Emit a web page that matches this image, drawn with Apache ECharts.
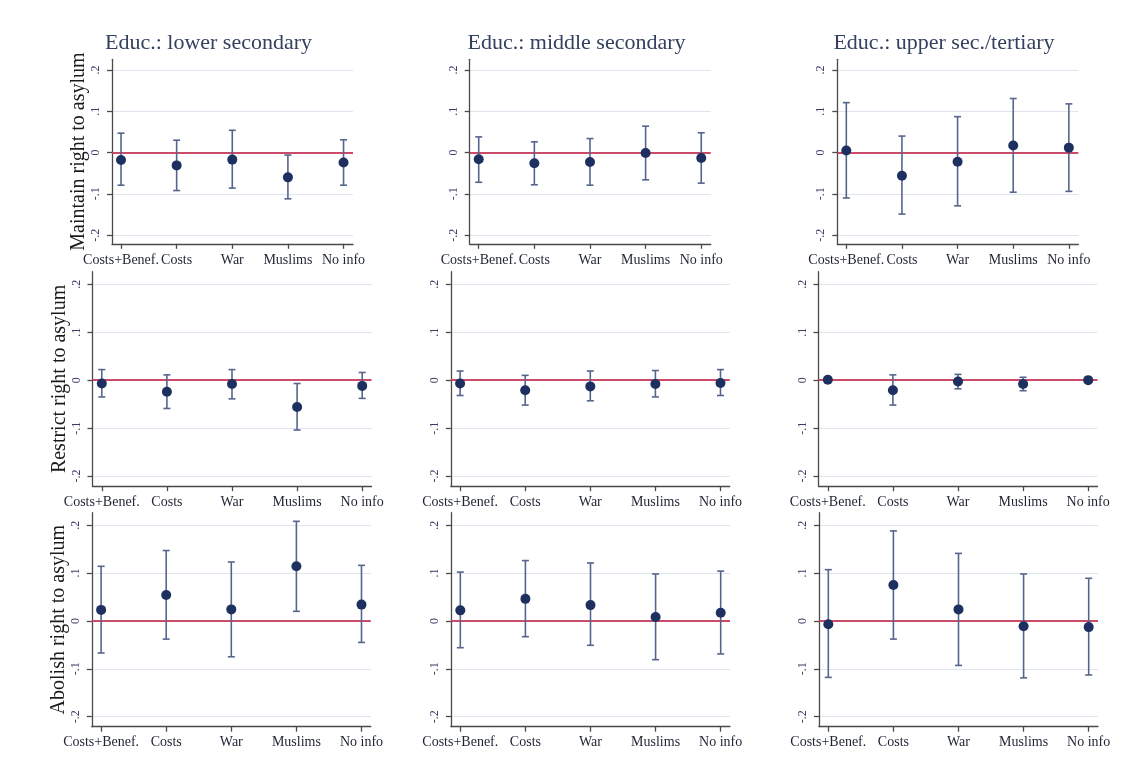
<!DOCTYPE html>
<html>
<head>
<meta charset="utf-8">
<script src="https://cdn.jsdelivr.net/npm/echarts@6/dist/echarts.min.js"></script>
<style>
  html, body { margin: 0; padding: 0; background: #ffffff; }
  #chart { width: 1132px; height: 763px; }
</style>
</head>
<body>
<div id="chart"></div>
<script>
// ---------------- data ----------------
const categories = ['Costs+Benef.', 'Costs', 'War', 'Muslims', 'No info'];
const categoryPositions = [1, 2, 3, 4, 5];
const columnTitles = ['Educ.: lower secondary', 'Educ.: middle secondary', 'Educ.: upper sec./tertiary'];
const rowTitles = ['Maintain right to asylum', 'Restrict right to asylum', 'Abolish right to asylum'];
const yTickValues = [-0.2, -0.1, 0, 0.1, 0.2];
const yTickLabels = ['-.2', '-.1', '0', '.1', '.2'];

// Maintain right to asylum
const maintainLowerCoef  = [-0.018, -0.031, -0.017, -0.060, -0.024];
const maintainLowerLo    = [-0.079, -0.092, -0.086, -0.112, -0.079];
const maintainLowerHi    = [ 0.047,  0.030,  0.054, -0.006,  0.031];
const maintainMiddleCoef = [-0.016, -0.026, -0.023, -0.001, -0.013];
const maintainMiddleLo   = [-0.072, -0.078, -0.079, -0.066, -0.074];
const maintainMiddleHi   = [ 0.038,  0.026,  0.034,  0.064,  0.048];
const maintainUpperCoef  = [ 0.005, -0.056, -0.022,  0.017,  0.012];
const maintainUpperLo    = [-0.110, -0.149, -0.129, -0.096, -0.094];
const maintainUpperHi    = [ 0.121,  0.040,  0.087,  0.131,  0.118];

// Restrict right to asylum
const restrictLowerCoef  = [-0.007, -0.024, -0.008, -0.056, -0.012];
const restrictLowerLo    = [-0.035, -0.059, -0.039, -0.104, -0.038];
const restrictLowerHi    = [ 0.022,  0.011,  0.022, -0.007,  0.016];
const restrictMiddleCoef = [-0.007, -0.021, -0.013, -0.008, -0.006];
const restrictMiddleLo   = [-0.032, -0.052, -0.043, -0.035, -0.032];
const restrictMiddleHi   = [ 0.019,  0.010,  0.019,  0.020,  0.022];
const restrictUpperCoef  = [ 0.001, -0.021, -0.003, -0.008,  0.000];
const restrictUpperLo    = [-0.002, -0.052, -0.018, -0.022, -0.003];
const restrictUpperHi    = [ 0.004,  0.011,  0.012,  0.006,  0.003];

// Abolish right to asylum
const abolishLowerCoef  = [0.023, 0.054, 0.024, 0.114, 0.034];
const abolishLowerLo    = [-0.067, -0.038, -0.075, 0.020, -0.045];
const abolishLowerHi    = [0.114, 0.147, 0.123, 0.208, 0.116];
const abolishMiddleCoef = [0.022, 0.046, 0.033, 0.008, 0.017];
const abolishMiddleLo   = [-0.056, -0.033, -0.051, -0.081, -0.069];
const abolishMiddleHi   = [0.102, 0.126, 0.121, 0.098, 0.104];
const abolishUpperCoef  = [-0.007, 0.075, 0.024, -0.011, -0.013];
const abolishUpperLo    = [-0.118, -0.038, -0.093, -0.119, -0.113];
const abolishUpperHi    = [0.107, 0.188, 0.141, 0.098, 0.089];

const panelValues = [
  [[maintainLowerCoef, maintainLowerLo, maintainLowerHi],
   [maintainMiddleCoef, maintainMiddleLo, maintainMiddleHi],
   [maintainUpperCoef, maintainUpperLo, maintainUpperHi]],
  [[restrictLowerCoef, restrictLowerLo, restrictLowerHi],
   [restrictMiddleCoef, restrictMiddleLo, restrictMiddleHi],
   [restrictUpperCoef, restrictUpperLo, restrictUpperHi]],
  [[abolishLowerCoef, abolishLowerLo, abolishLowerHi],
   [abolishMiddleCoef, abolishMiddleLo, abolishMiddleHi],
   [abolishUpperCoef, abolishUpperLo, abolishUpperHi]]
];

// ---------------- layout ----------------
const rowLayout = [
  { top: 59.3, height: 184.5, lefts: [112, 469.7, 837.3], width: 241, xMin: 0.838, xMax: 5.17, labelMargin: 10 },
  { top: 271.7, height: 214.5, lefts: [92.5, 450.8, 818.5], width: 279, xMin: 0.857, xMax: 5.143, labelMargin: 9 },
  { top: 512.7, height: 214, lefts: [91.8, 451, 819], width: 279, xMin: 0.857, xMax: 5.143, labelMargin: 9 }
];
const yMin = -0.221, yMax = 0.226;
const titleCenters = [208.5, 576.5, 944];

const SERIF = '"Liberation Serif", "DejaVu Serif", serif';
const AXIS_COLOR = '#4a4a4a';
const BAR_COLOR = '#56658c';
const DOT_COLOR = '#1d3060';
const ZERO_COLOR = '#c8385a';
const GRID_COLOR = '#dfe5ef';

function fmtY(v) {
  for (let i = 0; i < yTickValues.length; i++) {
    if (Math.abs(yTickValues[i] - v) < 1e-9) return yTickLabels[i];
  }
  return '';
}

function renderErrorBar(params, api) {
  const x = api.value(0), lo = api.value(1), hi = api.value(2);
  const a = api.coord([x, hi]);
  const b = api.coord([x, lo]);
  const cap = 3.5;
  const style = { stroke: BAR_COLOR, lineWidth: 1.6, fill: null };
  return {
    type: 'group',
    children: [
      { type: 'line', shape: { x1: a[0], y1: a[1], x2: b[0], y2: b[1] }, style: style },
      { type: 'line', shape: { x1: a[0] - cap, y1: a[1], x2: a[0] + cap, y2: a[1] }, style: style },
      { type: 'line', shape: { x1: b[0] - cap, y1: b[1], x2: b[0] + cap, y2: b[1] }, style: style }
    ]
  };
}

const grids = [], xAxes = [], yAxes = [], series = [], titles = [];

for (let c = 0; c < 3; c++) {
  titles.push({
    text: columnTitles[c],
    left: titleCenters[c],
    top: 32,
    padding: 0,
    textAlign: 'center',
    textStyle: { fontFamily: SERIF, fontSize: 22, fontWeight: 'normal', color: '#34405f' }
  });
}

for (let r = 0; r < 3; r++) {
  const L = rowLayout[r];
  for (let c = 0; c < 3; c++) {
    const idx = r * 3 + c;
    grids.push({ left: L.lefts[c], top: L.top, width: L.width, height: L.height, containLabel: false });
    xAxes.push({
      type: 'value', gridIndex: idx, min: L.xMin, max: L.xMax,
      axisLine: { show: true, onZero: false, lineStyle: { color: AXIS_COLOR, width: 1.3 } },
      axisTick: { show: true, customValues: categoryPositions, length: 5, lineStyle: { color: AXIS_COLOR, width: 1.3 } },
      axisLabel: {
        show: true, customValues: categoryPositions, margin: L.labelMargin,
        fontFamily: SERIF, fontSize: 14, color: '#1f2433',
        formatter: function (v) { return categories[Math.round(v) - 1] || ''; }
      },
      splitLine: { show: false }
    });
    yAxes.push({
      type: 'value', gridIndex: idx, min: yMin, max: yMax,
      name: c === 0 ? rowTitles[r] : '',
      nameLocation: 'middle', nameGap: 22,
      nameTextStyle: { fontFamily: SERIF, fontSize: 20, color: '#1a1a1a' },
      axisLine: { show: true, onZero: false, lineStyle: { color: AXIS_COLOR, width: 1.3 } },
      axisTick: { show: true, customValues: yTickValues, length: 5, lineStyle: { color: AXIS_COLOR, width: 1.3 } },
      axisLabel: {
        show: true, customValues: yTickValues, rotate: 90, margin: 10,
        fontFamily: SERIF, fontSize: 12, color: '#3b3a66',
        formatter: fmtY
      },
      splitLine: { show: true, lineStyle: { color: GRID_COLOR, width: 1.2 } }
    });

    const vals = panelValues[r][c];
    const coef = vals[0], lo = vals[1], hi = vals[2];
    const barData = categoryPositions.map((p, i) => [p, lo[i], hi[i]]);
    const dotData = categoryPositions.map((p, i) => [p, coef[i]]);

    series.push({
      type: 'custom', xAxisIndex: idx, yAxisIndex: idx, z: 3,
      renderItem: renderErrorBar,
      encode: { x: 0, y: [1, 2] },
      data: barData,
      silent: true,
      markLine: {
        silent: true, symbol: 'none', animation: false,
        label: { show: false },
        lineStyle: { color: ZERO_COLOR, width: 2, type: 'solid', opacity: 0.9 },
        data: [{ yAxis: 0 }],
        z: 2
      }
    });
    series.push({
      type: 'scatter', xAxisIndex: idx, yAxisIndex: idx, z: 4,
      symbol: 'circle', symbolSize: 10,
      itemStyle: { color: DOT_COLOR, opacity: 1 },
      data: dotData,
      silent: true
    });
  }
}

const chart = echarts.init(document.getElementById('chart'), null, { renderer: 'canvas' });
chart.setOption({
  backgroundColor: '#ffffff',
  animation: false,
  title: titles,
  grid: grids,
  xAxis: xAxes,
  yAxis: yAxes,
  series: series
});
</script>
</body>
</html>
